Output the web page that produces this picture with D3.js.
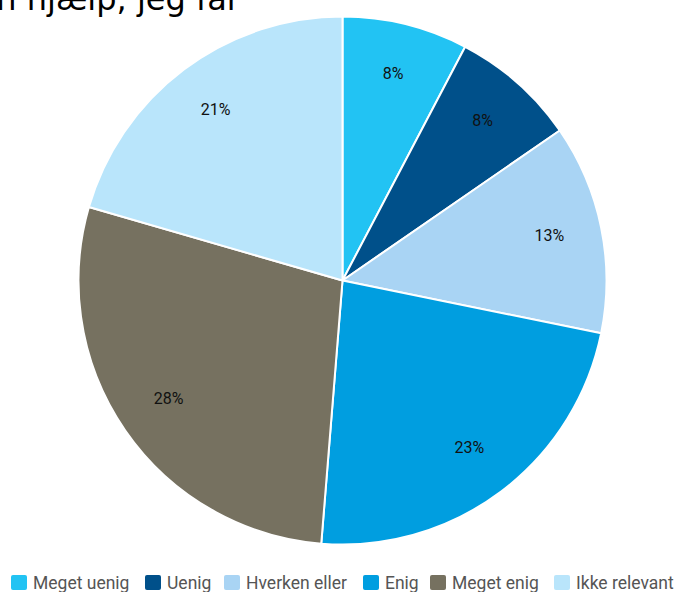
<!DOCTYPE html>
<html>
<head>
<meta charset="utf-8">
<script src="https://cdn.jsdelivr.net/npm/d3@7"></script>
<style>
html,body{margin:0;padding:0;background:#fff;}
svg{display:block;}
</style>
</head>
<body>
<svg id="chart" width="679" height="592"></svg>
<script>
const categories = ["Meget uenig", "Uenig", "Hverken eller", "Enig", "Meget enig", "Ikke relevant"];
const counts = [3, 3, 5, 9, 11, 8];
const colors = ["#22c3f3", "#00508a", "#a9d4f4", "#009ee0", "#767160", "#b9e5fb"];
const titleText = "n hjælp, jeg får";
const legendX = [11, 145, 224, 363, 430, 554];

const svg = d3.select("#chart");
const cx = 342.5, cy = 280.5, r = 264;

svg.append("text")
  .attr("x", 240).attr("y", 9.5)
  .attr("text-anchor", "end")
  .style("font-family", "'DejaVu Sans', Verdana, sans-serif")
  .style("font-size", "32px")
  .style("fill", "#000")
  .text(titleText);

const data = categories.map((c, i) => ({cat: c, value: counts[i], color: colors[i]}));
const total = d3.sum(counts);

const pie = d3.pie().value(d => d.value).sort(null);
const arc = d3.arc().innerRadius(0).outerRadius(r);
const labelArc = d3.arc().innerRadius(r * 0.8).outerRadius(r * 0.8);

const g = svg.append("g").attr("transform", `translate(${cx},${cy})`);
const arcs = pie(data);

g.selectAll("path.slice").data(arcs).join("path")
  .attr("class", "slice")
  .attr("d", arc)
  .attr("fill", d => d.data.color)
  .attr("stroke", "#fff")
  .attr("stroke-width", 2)
  .attr("stroke-linejoin", "round");

g.selectAll("text.lbl").data(arcs).join("text")
  .attr("class", "lbl")
  .attr("transform", d => `translate(${labelArc.centroid(d)})`)
  .attr("text-anchor", "middle")
  .attr("dy", "0.2em")
  .style("font-family", "Roboto, sans-serif")
  .style("font-size", "16px")
  .style("fill", "#111")
  .text(d => d3.format(".0%")(d.data.value / total));

const leg = svg.append("g");
const items = leg.selectAll("g.item").data(data).join("g")
  .attr("class", "item")
  .attr("transform", (d, i) => `translate(${legendX[i]},0)`);
items.append("rect")
  .attr("x", 0).attr("y", 575)
  .attr("width", 16).attr("height", 15)
  .attr("rx", 2).attr("ry", 2)
  .attr("fill", d => d.color);
items.append("text")
  .attr("x", 22).attr("y", 589)
  .style("font-family", "Roboto, sans-serif")
  .style("font-size", "17.5px")
  .style("fill", "#555")
  .text(d => d.cat);
</script>
</body>
</html>
